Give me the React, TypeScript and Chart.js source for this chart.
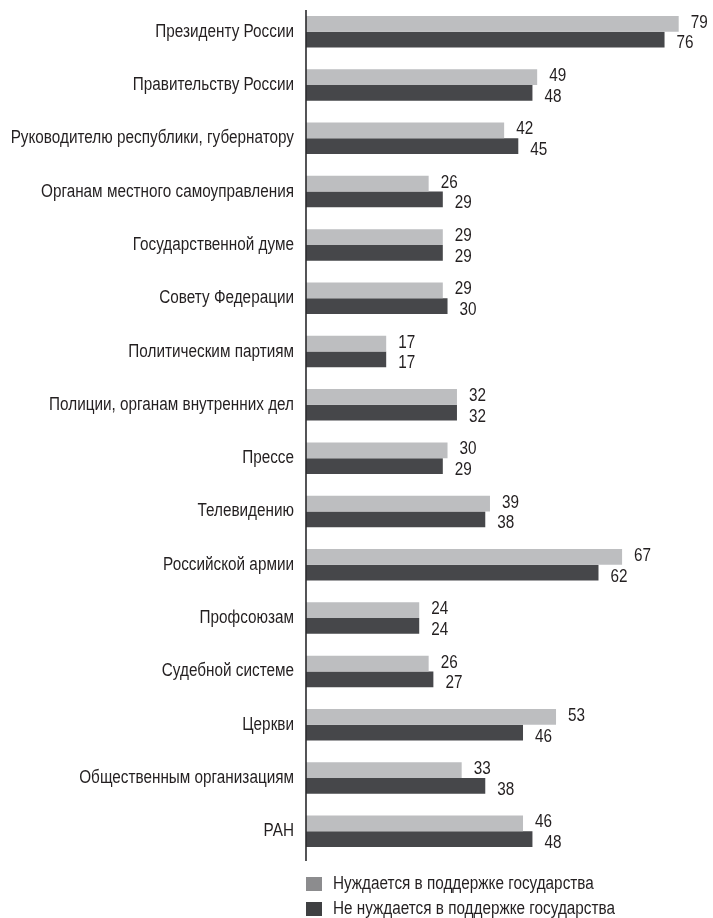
import React, { useEffect, useRef } from "react";
import { Chart, registerables } from "chart.js";

Chart.register(...registerables);

const categories = [
  "Президенту России",
  "Правительству России",
  "Руководителю республики, губернатору",
  "Органам местного самоуправления",
  "Государственной думе",
  "Совету Федерации",
  "Политическим партиям",
  "Полиции, органам внутренних дел",
  "Прессе",
  "Телевидению",
  "Российской армии",
  "Профсоюзам",
  "Судебной системе",
  "Церкви",
  "Общественным организациям",
  "РАН",
];

const seriesNames = [
  "Нуждается в поддержке государства",
  "Не нуждается в поддержке государства",
];

const needsSupport = [79, 49, 42, 26, 29, 29, 17, 32, 30, 39, 67, 24, 26, 53, 33, 46];
const noNeedSupport = [76, 48, 45, 29, 29, 30, 17, 32, 29, 38, 62, 24, 27, 46, 38, 48];

const FONT = "'Liberation Sans', Arial, sans-serif";
const SX = 0.85;
const TEXT = "#231f20";
const barColors = ["#bdbec0", "#46474a"];
const legendColors = ["#8c8c8e", "#3f4042"];

function narrowText(ctx: CanvasRenderingContext2D, text: string, x: number, y: number, align: "left" | "right") {
  ctx.save();
  ctx.translate(x, y);
  ctx.scale(SX, 1);
  ctx.textAlign = align;
  ctx.textBaseline = "middle";
  ctx.fillText(text, 0, 0);
  ctx.restore();
}

export default function App() {
  const ref = useRef<HTMLCanvasElement | null>(null);

  useEffect(() => {
    document.body.style.margin = "0";
    const canvas = ref.current;
    if (!canvas) return;

    const textLayer = {
      id: "textLayer",
      afterDraw(chart: any) {
        const ctx = chart.ctx as CanvasRenderingContext2D;
        const a = chart.chartArea;
        const yScale = chart.scales.y;
        ctx.save();
        ctx.font = `18px ${FONT}`;
        ctx.fillStyle = TEXT;

        // category labels
        categories.forEach((c, i) => {
          narrowText(ctx, c, a.left - 12, yScale.getPixelForValue(i), "right");
        });

        // value labels
        chart.data.datasets.forEach((ds: any, di: number) => {
          const meta = chart.getDatasetMeta(di);
          meta.data.forEach((el: any, i: number) => {
            const dy = di === 0 ? -1 : 4;
            narrowText(ctx, String(ds.data[i]), el.x + 12, el.y + dy, "left");
          });
        });

        // axis line
        ctx.strokeStyle = "#2a2a2c";
        ctx.lineWidth = 1.6;
        ctx.beginPath();
        ctx.moveTo(a.left, a.top + 5);
        ctx.lineTo(a.left, a.bottom + 3);
        ctx.stroke();

        // legend
        seriesNames.forEach((name, i) => {
          const y = a.bottom + 19 + i * 25;
          ctx.fillStyle = legendColors[i];
          ctx.fillRect(a.left, y, 16, 14);
          ctx.fillStyle = TEXT;
          narrowText(ctx, name, a.left + 27, y + 7, "left");
        });
        ctx.restore();
      },
    };

    const chart = new Chart(canvas, {
      type: "bar",
      data: {
        labels: categories,
        datasets: [
          { label: seriesNames[0], data: needsSupport, backgroundColor: barColors[0] },
          { label: seriesNames[1], data: noNeedSupport, backgroundColor: barColors[1] },
        ],
      },
      options: {
        indexAxis: "y",
        animation: false,
        responsive: false,
        maintainAspectRatio: false,
        events: [],
        layout: { padding: { left: 0, right: 6, top: 5, bottom: 60 } },
        datasets: {
          bar: { categoryPercentage: 0.59, barPercentage: 1 },
        },
        scales: {
          x: { display: false, min: 0, max: 85 },
          y: {
            grid: { display: false },
            border: { display: false },
            ticks: { display: false },
            afterFit(scale: any) {
              scale.width = 306;
              scale.paddingTop = 0;
              scale.paddingBottom = 0;
            },
          },
        },
        plugins: {
          legend: { display: false },
          tooltip: { enabled: false },
        },
      },
      plugins: [textLayer],
    });

    return () => chart.destroy();
  }, []);

  return (
    <div style={{ width: 713, height: 918 }}>
      <canvas ref={ref} width={713} height={918} style={{ display: "block" }} />
    </div>
  );
}
